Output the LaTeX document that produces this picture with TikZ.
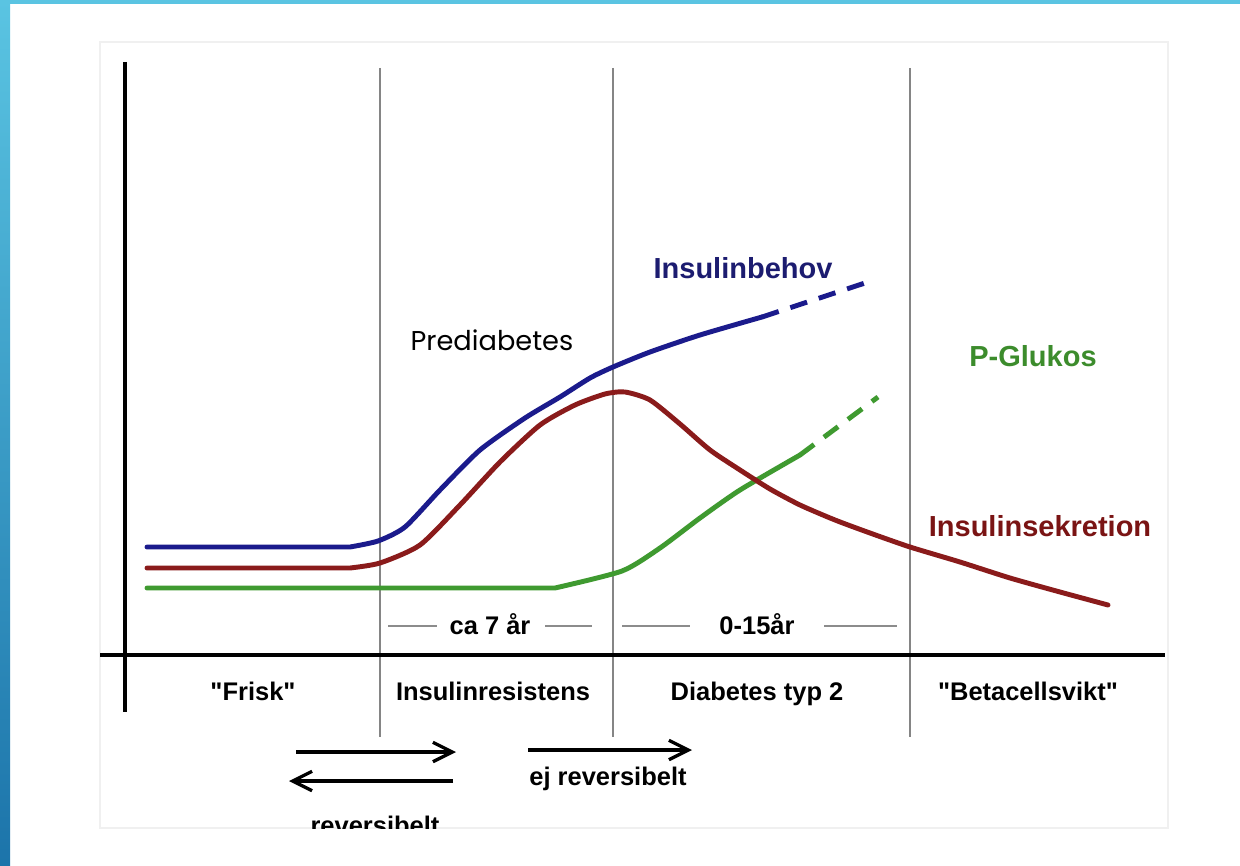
\documentclass[tikz,border=0pt]{standalone}
\usepackage{fontspec}
\setmainfont{Liberation Sans}[Ligatures=TeXOff]
\newfontfamily\predfont{Poppins}
\usetikzlibrary{arrows.meta}
\definecolor{cblue}{HTML}{1B1B8C}
\definecolor{cred}{HTML}{8A1B1B}
\definecolor{cgreen}{HTML}{3F9A30}
\definecolor{tblue}{HTML}{1C1C70}
\definecolor{tred}{HTML}{7A1414}
\definecolor{tgreen}{HTML}{3C8C2C}
\definecolor{bartop}{HTML}{5AC4E2}
\definecolor{barbot}{HTML}{1C74AA}
\begin{document}
\begin{tikzpicture}[x=0.02cm,y=-0.02cm,
  curve/.style={line width=2.8pt,line cap=round,line join=round},
  dashpart/.style={line width=2.8pt,dash pattern=on 10pt off 7pt},
  grid/.style={draw=black!48,line width=1.2pt},
  axis/.style={draw=black,line width=2.4pt},
  small/.style={draw=black!45,line width=0.8pt},
  biglab/.style={font=\fontsize{16.5}{20}\selectfont\bfseries,inner sep=0pt},
  lab/.style={font=\fontsize{14.5}{17}\selectfont\bfseries,inner sep=0pt},
  arr/.style={draw=black,line width=1.9pt,-{Straight Barb[length=11pt,width=11pt,line width=1.9pt]}}
]
\useasboundingbox (0,0) rectangle (1240,865);
\fill[white] (0,0) rectangle (1240,865);
\shade[top color=bartop,bottom color=barbot] (0,0) rectangle (10,865);
\fill[bartop] (0,0) rectangle (1240,4);
% faint frame
\draw[black!6,line width=0.6pt] (100,42) rectangle (1168,828);

% grid lines
\draw[grid] (380,68) -- (380,737);
\draw[grid] (613,68) -- (613,737);
\draw[grid] (910,68) -- (910,737);

% axes
\draw[axis] (125,62) -- (125,712);
\draw[axis] (100,655) -- (1165,655);

% curves
\draw[curve,cgreen] (147,588) -- (555,588) plot[smooth,tension=0.4] coordinates {(555,588) (622,571) (660,548) (700,518) (740,490) (800,455)};
\draw[dashpart,cgreen] (800,455) -- (878,397);
\draw[curve,cred] (147,568) -- (350,568) plot[smooth,tension=0.4] coordinates {(350,568) (380,563) (420,545) (460,505) (500,462) (540,425) (575,405) (605,394) (625,392) (650,400) (680,424) (710,450) (740,470) (770,489) (800,505) (835,520) (870,533) (910,547) (960,562) (1010,578) (1060,592) (1108,605)};
\draw[curve,cblue] (147,547) -- (350,547) plot[smooth,tension=0.4] coordinates {(350,547) (378,541) (405,527) (440,490) (480,450) (525,418) (560,397) (590,378) (613,367) (650,352) (700,335) (762,317)};
\draw[dashpart,cblue] (762,317) -- (865,283);

% curve labels
\node[biglab,text=tblue] (lbeh) at (743,268) {Insulinbehov};
\node[inner sep=0pt,font=\predfont\fontsize{15.5}{18}\selectfont] (lpre) at (492,340) {Prediabetes};
\node[biglab,text=tgreen] (lglu) at (1033,356) {P-Glukos};
\node[biglab,text=tred] (lsek) at (1040,526) {Insulinsekretion};

% duration labels
\node[lab,anchor=base] (l7) at (490,634) {ca 7 år};
\node[lab,anchor=base] (l15) at (757,634) {0-15år};
\coordinate (d1a) at (388,626); \coordinate (d1b) at (437,626);
\coordinate (d2a) at (545,626); \coordinate (d2b) at (592,626);
\coordinate (d3a) at (622,626); \coordinate (d3b) at (690,626);
\coordinate (d4a) at (824,626); \coordinate (d4b) at (897,626);
\draw[small] (d1a) -- (d1b);
\draw[small] (d2a) -- (d2b);
\draw[small] (d3a) -- (d3b);
\draw[small] (d4a) -- (d4b);

% stage labels
\node[lab,anchor=base] (sfr) at (253,700) {"Frisk"};
\node[lab,anchor=base] (sir) at (493,700) {Insulinresistens};
\node[lab,anchor=base] (sdt) at (757,700) {Diabetes typ 2};
\node[lab,anchor=base] (sbc) at (1028,700) {"Betacellsvikt"};

% arrows
\coordinate (r1a) at (296,752); \coordinate (r1b) at (456,752);
\coordinate (r2a) at (453,781); \coordinate (r2b) at (289,781);
\coordinate (r3a) at (528,750); \coordinate (r3b) at (692,750);
\draw[arr] (r1a) -- (r1b);
\draw[arr] (r2a) -- (r2b);
\draw[arr] (r3a) -- (r3b);
\node[lab,anchor=base] (lej) at (608,785) {ej reversibelt};
\begin{scope}
\clip (250,790) rectangle (500,828);
\node[lab,anchor=base] (lrev) at (375,834) {reversibelt};
\end{scope}
\end{tikzpicture}
\end{document}
